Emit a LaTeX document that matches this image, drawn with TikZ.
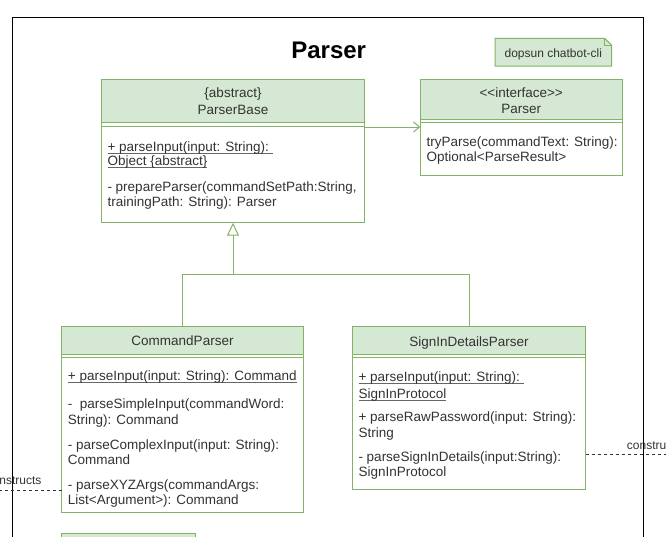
\documentclass[tikz,border=0pt]{standalone}
\usepackage{fontspec}
\newfontfamily\umlfont{Liberation Sans}
\usetikzlibrary{arrows.meta,calc}
\definecolor{gfill}{HTML}{D5E8D4}
\definecolor{gstroke}{HTML}{82B366}
\definecolor{tgray}{HTML}{333333}
\definecolor{ulgray}{HTML}{666666}
\newcommand{\myul}[1]{\setbox0\hbox{#1}\rlap{\color{ulgray}\rule[-2.4pt]{\wd0}{0.75pt}}\box0}
\begin{document}
\begin{tikzpicture}[x=1pt,y=-1pt,
  umlbox/.style={draw=gstroke, fill=white, line width=1pt, anchor=north west, inner sep=0pt, outer sep=0pt},
  hdrbox/.style={draw=gstroke, fill=gfill, line width=1pt},
  sepline/.style={draw=gstroke, line width=1pt},
  conn/.style={draw=gstroke, line width=1pt},
  txt/.style={font=\umlfont\fontsize{13.5}{15.5}\selectfont, text=tgray, inner sep=0pt, anchor=base west},
  ctxt/.style={txt, anchor=base},
  lbl/.style={font=\umlfont\fontsize{12}{14}\selectfont, text=tgray, inner sep=0pt},
  dsh/.style={draw=tgray, line width=1pt, dash pattern=on 3pt off 3pt}
]
\useasboundingbox (0,0) rectangle (666,536);
\clip (0,0) rectangle (666,536);

% frame
\node[draw=black, line width=1.3pt, anchor=north west, minimum width=630.6pt, minimum height=600pt, inner sep=0pt, outer sep=0pt] (frame) at (12.7,17.3) {};

% title
\node[font=\umlfont\bfseries\fontsize{24}{28}\selectfont, anchor=base, inner sep=0pt] (title) at (328.7,58.3) {Parser};

% note
\node[anchor=north west, minimum width=116.7pt, minimum height=27.7pt, inner sep=0pt, outer sep=0pt] (note) at (495,38.3) {};
\draw[draw=gstroke, fill=gfill, line width=1pt]
  (note.north west) -- ([xshift=-7pt]note.north east) -- ([yshift=-7pt]note.north east)
  -- (note.south east) -- (note.south west) -- cycle;
\draw[draw=gstroke, line width=1pt]
  ([xshift=-7pt]note.north east) -- ([xshift=-7pt,yshift=-7pt]note.north east) -- ([yshift=-7pt]note.north east);
\node[lbl, anchor=base] (notetext) at (553.3,57.3) {dopsun chatbot-cli};

% ParserBase
\node[umlbox, minimum width=262.6pt, minimum height=143.7pt] (pb) at (101.7,79) {};
\draw[hdrbox] (pb.north west) rectangle ([yshift=-43.5pt]pb.north east);
\draw[sepline] ([yshift=-47.5pt]pb.north west) -- ([yshift=-47.5pt]pb.north east);
\node[ctxt] (pbh1) at (233,97.8) {\{abstract\}};
\node[ctxt] (pbh2) at (233,114.5) {ParserBase};
\node[txt] (pbm1) at (107.3,151.5) {\myul{+ parseInput(input: String):\ }};
\node[txt] (pbm2) at (107.3,165.2) {\myul{Object \{abstract\}}};
\node[txt] (pbm3) at (107.3,191.2) {- prepareParser(commandSetPath:String,};
\node[txt] (pbm4) at (107.3,206.8) {trainingPath: String): Parser};

% Parser interface
\node[umlbox, minimum width=201.7pt, minimum height=96pt] (pi) at (420.3,79) {};
\draw[hdrbox] (pi.north west) rectangle ([yshift=-40pt]pi.north east);
\draw[sepline] ([yshift=-43.5pt]pi.north west) -- ([yshift=-43.5pt]pi.north east);
\node[ctxt] (pih1) at (521.2,97.2) {<<interface>>};
\node[ctxt] (pih2) at (521.2,113.8) {Parser};
\node[txt] (pim1) at (426.5,146.5) {tryParse(commandText: String):};
\node[txt] (pim2) at (426.5,161.5) {Optional<ParseResult>};

% CommandParser
\node[umlbox, minimum width=241.6pt, minimum height=185.6pt] (cp) at (61.7,326.7) {};
\draw[hdrbox] (cp.north west) rectangle ([yshift=-27.3pt]cp.north east);
\draw[sepline] ([yshift=-30.6pt]cp.north west) -- ([yshift=-30.6pt]cp.north east);
\node[ctxt] (cph) at (182.5,345.5) {CommandParser};
\node[txt] (cpm1) at (67.7,380.5) {\myul{+ parseInput(input: String): Command}};
\node[txt] (cpm2) at (67.7,408.5) {-\ \ parseSimpleInput(commandWord:};
\node[txt] (cpm3) at (67.7,424.5) {String): Command};
\node[txt] (cpm4) at (67.7,449.5) {- parseComplexInput(input: String):};
\node[txt] (cpm5) at (67.7,464.5) {Command};
\node[txt] (cpm6) at (67.7,489.5) {- parseXYZArgs(commandArgs:};
\node[txt] (cpm7) at (67.7,504.5) {List<Argument>): Command};

% SignInDetailsParser
\node[umlbox, minimum width=233.4pt, minimum height=162.3pt] (sp) at (352.3,326.7) {};
\draw[hdrbox] (sp.north west) rectangle ([yshift=-27.3pt]sp.north east);
\draw[sepline] ([yshift=-31pt]sp.north west) -- ([yshift=-31pt]sp.north east);
\node[ctxt] (sph) at (469,346) {SignInDetailsParser};
\node[txt] (spm1) at (358.3,381.8) {\myul{+ parseInput(input: String):\ }};
\node[txt] (spm2) at (358.3,398.5) {\myul{SignInProtocol}};
\node[txt] (spm3) at (358.3,421.2) {+ parseRawPassword(input: String):};
\node[txt] (spm4) at (358.3,437.2) {String};
\node[txt] (spm5) at (358.3,461.2) {- parseSignInDetails(input:String):};
\node[txt] (spm6) at (358.3,476.2) {SignInProtocol};

% partial box at the bottom
\node[umlbox, fill=gfill, minimum width=133.3pt, minimum height=40pt] (bx) at (61.7,533.3) {};

% generalisation
\coordinate (j) at (233,274.5);
\draw[conn] (cp.north) |- (j);
\draw[conn] (sp.north) |- (j);
\draw[conn, -{Triangle[length=13pt,width=12pt,fill=white]}] (j) -- (pb.south);

% association
\draw[conn, -{Straight Barb[length=6pt,width=10pt]}] ([yshift=-48pt]pb.north east) -- ([yshift=-48pt]pi.north west);

% dashed connectors
\coordinate (lc) at (-30,490);
\draw[dsh] (cp.west |- lc) -- (lc);
\node[lbl, anchor=base east] (l1) at (41.7,484) {constructs};
\coordinate (rc) at (700,454);
\draw[dsh] (sp.east |- rc) -- (rc);
\node[lbl, anchor=base west] (l2) at (626.7,449) {constructs};
\end{tikzpicture}
\end{document}
